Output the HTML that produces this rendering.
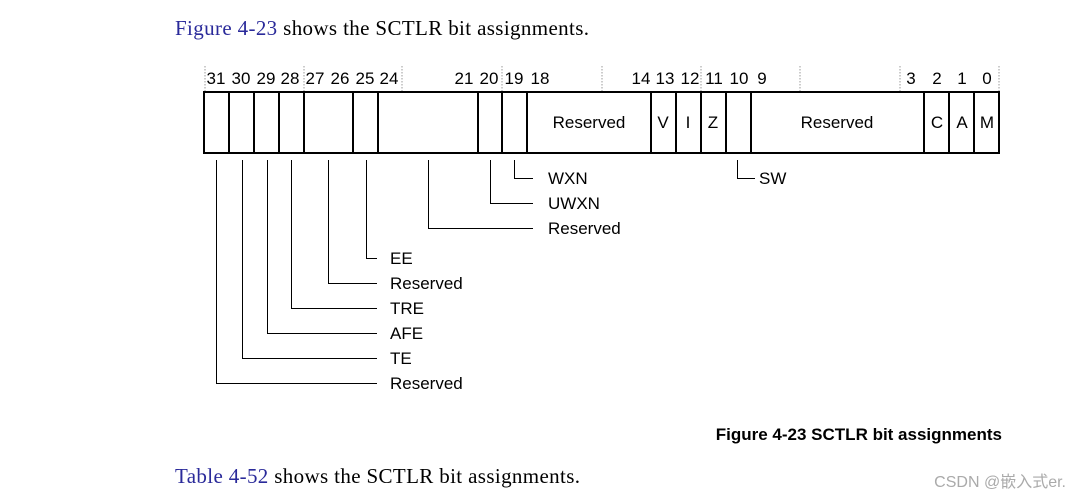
<!DOCTYPE html>
<html><head><meta charset="utf-8"><style>
body{margin:0;background:#fff;width:1080px;height:500px;overflow:hidden}
</style></head><body>
<svg width="1080" height="500" xmlns="http://www.w3.org/2000/svg" style="position:absolute;left:0;top:0">
<g font-family="Liberation Serif, serif" font-size="21" fill="#000">
<text x="175" y="35" textLength="414" lengthAdjust="spacing"><tspan fill="#2a2a9a">Figure 4-23</tspan> shows the SCTLR bit assignments.</text>
<text x="175" y="483" textLength="405" lengthAdjust="spacing"><tspan fill="#2a2a9a">Table 4-52</tspan> shows the SCTLR bit assignments.</text>
</g>
<g stroke="#999" stroke-dasharray="1.5,1.5" stroke-width="1">
<line x1="205" y1="66" x2="205" y2="91"/><line x1="304" y1="66" x2="304" y2="91"/><line x1="402" y1="66" x2="402" y2="91"/><line x1="502" y1="66" x2="502" y2="91"/><line x1="602" y1="66" x2="602" y2="91"/><line x1="701" y1="66" x2="701" y2="91"/><line x1="800" y1="66" x2="800" y2="91"/><line x1="900" y1="66" x2="900" y2="91"/><line x1="999" y1="66" x2="999" y2="91"/>
</g>
<g font-family="Liberation Sans, sans-serif" font-size="17" fill="#000" text-anchor="middle">
<text x="216" y="84">31</text><text x="241" y="84">30</text><text x="266" y="84">29</text><text x="290" y="84">28</text><text x="315" y="84">27</text><text x="340" y="84">26</text><text x="365" y="84">25</text><text x="389" y="84">24</text><text x="464" y="84">21</text><text x="489" y="84">20</text><text x="514" y="84">19</text><text x="540" y="84">18</text><text x="641" y="84">14</text><text x="665" y="84">13</text><text x="690" y="84">12</text><text x="714" y="84">11</text><text x="739" y="84">10</text><text x="762" y="84">9</text><text x="911" y="84">3</text><text x="937" y="84">2</text><text x="962" y="84">1</text><text x="987" y="84">0</text>
<text x="589" y="128">Reserved</text><text x="663" y="128">V</text><text x="688" y="128">I</text><text x="713" y="128">Z</text><text x="837" y="128">Reserved</text><text x="937" y="128">C</text><text x="962" y="128">A</text><text x="987" y="128">M</text>
</g>
<g stroke="#000" stroke-width="2" fill="none">
<rect x="204" y="92" width="795" height="61"/>
<path d="M229 92V153M254 92V153M279 92V153M304 92V153M353 92V153M378 92V153M478 92V153M502 92V153M527 92V153M651 92V153M676 92V153M701 92V153M726 92V153M751 92V153M924 92V153M949 92V153M974 92V153"/>
</g>
<g stroke="#000" stroke-width="1" fill="none">
<path d="M514.5 160V178.5H533M490.5 160V203.5H533M428.5 160V228.5H533M366.5 160V258.5H377M328.5 160V283.5H377M291.5 160V308.5H377M267.5 160V333.5H377M242.5 160V358.5H377M216.5 160V383.5H377M737.5 160V178.5H755"/>
</g>
<g font-family="Liberation Sans, sans-serif" font-size="17" fill="#000">
<text x="548" y="184">WXN</text><text x="548" y="209">UWXN</text><text x="548" y="234">Reserved</text>
<text x="759" y="184">SW</text>
<text x="390" y="264">EE</text><text x="390" y="289">Reserved</text><text x="390" y="314">TRE</text><text x="390" y="339">AFE</text><text x="390" y="364">TE</text><text x="390" y="389">Reserved</text>
<text x="1002" y="440" text-anchor="end" font-weight="bold" font-size="17">Figure 4-23 SCTLR bit assignments</text>
</g>
<text x="1066" y="487" text-anchor="end" font-family="Liberation Sans, Noto Sans CJK SC, sans-serif" font-size="16" fill="#aaa">CSDN @嵌入式er.</text>
</svg>
</body></html>
